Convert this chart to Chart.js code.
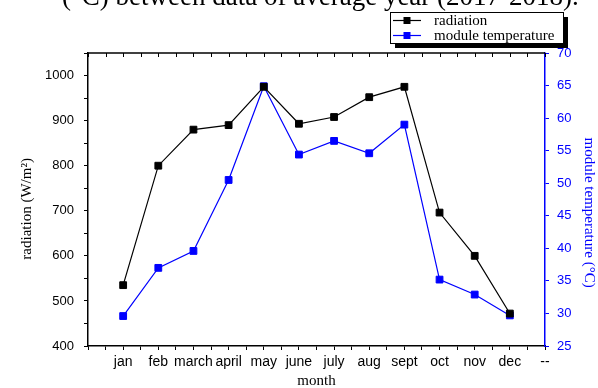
<!DOCTYPE html>
<html>
<head>
<meta charset="utf-8">
<script src="https://cdn.jsdelivr.net/npm/chart.js@4.4.0/dist/chart.umd.min.js"></script>
<style>
  body { margin: 0; background: #fff; }
  canvas { display: block; }
</style>
</head>
<body>
<canvas id="monthGraph" width="598" height="388"></canvas>
<script>
// values
const months = ['jan', 'feb', 'march', 'april', 'may', 'june', 'july', 'aug', 'sept', 'oct', 'nov', 'dec', '--']
const radiation = [535, 800, 880, 890, 975, 893, 908, 952, 975, 696, 600, 472]
const moduleTemp = [29.6, 37.0, 39.6, 50.5, 64.9, 54.4, 56.5, 54.6, 59.0, 35.2, 32.9, 29.7]
const radiationTicks = [400, 500, 600, 700, 800, 900, 1000]
const tempTicks = [25, 30, 35, 40, 45, 50, 55, 60, 65, 70]
const caption = '(\u00b0C) between data of average year (2017-2018).'

const serif = 'Liberation Serif'
const sans = 'Liberation Sans'

function toPoints(values) {
  return values.map(function (v, i) { return { x: i + 1, y: v } })
}

// the caption above the figure is cut by the top edge
const captionPlugin = {
  id: 'caption',
  afterDraw(chart) {
    const c = chart.ctx
    c.save()
    c.font = '27px "' + serif + '"'
    c.fillStyle = '#000'
    c.textBaseline = 'alphabetic'
    c.fillText(caption, 62, 5)
    c.restore()
  }
}

// top frame line with inward ticks
const frameTop = {
  id: 'frameTop',
  afterDraw(chart) {
    const c = chart.ctx
    const area = chart.chartArea
    const x = chart.scales.x
    c.save()
    c.strokeStyle = '#000'
    c.lineWidth = 1.5
    c.beginPath()
    c.moveTo(area.left, area.top)
    c.lineTo(area.right, area.top)
    c.stroke()
    c.lineWidth = 1
    x.ticks.forEach(function (t) {
      const px = Math.round(x.getPixelForValue(t.value)) + 0.5
      c.beginPath()
      c.moveTo(px, area.top)
      c.lineTo(px, area.top + 4)
      c.stroke()
    })
    c.restore()
  }
}

// boxed legend with a drop shadow
const boxLegend = {
  id: 'boxLegend',
  afterDraw(chart) {
    const c = chart.ctx
    const bx = 390, by = 12, bw = 173, bh = 31
    c.save()
    c.fillStyle = '#000'
    c.fillRect(bx + 5, by + 5, bw, bh)
    c.fillStyle = '#fff'
    c.fillRect(bx, by, bw, bh)
    c.strokeStyle = '#000'
    c.lineWidth = 1
    c.strokeRect(bx + 0.5, by + 0.5, bw, bh)
    c.font = '15px "' + serif + '"'
    c.textBaseline = 'middle'
    chart.data.datasets.forEach(function (ds, i) {
      const y = by + 8.5 + i * 15
      c.strokeStyle = ds.borderColor
      c.lineWidth = 1.2
      c.beginPath()
      c.moveTo(bx + 3, y)
      c.lineTo(bx + 31, y)
      c.stroke()
      c.fillStyle = ds.borderColor
      c.fillRect(bx + 13.5, y - 3.5, 7, 7)
      c.fillStyle = '#000'
      c.fillText(ds.label, bx + 44, y + 1)
    })
    c.restore()
  }
}

var ctx = document.getElementById('monthGraph').getContext('2d')

var monthChart = new Chart(ctx, {
  type: 'line',
  data: {
    datasets: [{
      label: 'radiation',
      data: toPoints(radiation),
      yAxisID: 'y',
      borderColor: '#000000',
      backgroundColor: '#000000',
      borderWidth: 1.2,
      pointStyle: 'rect',
      pointRadius: 4.8,
      pointBorderWidth: 1,
      tension: 0,
      fill: false
    }, {
      label: 'module temperature',
      data: toPoints(moduleTemp),
      yAxisID: 'y1',
      borderColor: '#0000ff',
      backgroundColor: '#0000ff',
      borderWidth: 1.2,
      pointStyle: 'rect',
      pointRadius: 4.8,
      pointBorderWidth: 1,
      tension: 0,
      fill: false
    }]
  },
  options: {
    responsive: false,
    animation: false,
    layout: { padding: { top: 53, left: 0, right: 0, bottom: 0 } },
    plugins: {
      legend: { display: false },
      tooltip: { enabled: false }
    },
    scales: {
      x: {
        type: 'linear',
        min: 0,
        max: 13,
        afterFit(scale) { scale.height = 42 },
        ticks: {
          stepSize: 0.5,
          autoSkip: false,
          maxRotation: 0,
          padding: 4,
          color: '#000',
          font: { family: sans, size: 14 },
          callback(v) {
            return Number.isInteger(v) && v >= 1 ? months[v - 1] : ''
          }
        },
        grid: { drawOnChartArea: false, tickLength: 4, tickColor: '#000', tickWidth: 1 },
        border: { color: '#000', width: 1.5 },
        title: {
          display: true,
          text: 'month',
          color: '#000',
          font: { family: serif, size: 15 },
          padding: { top: 0, bottom: -2 }
        }
      },
      y: {
        position: 'left',
        min: 400,
        max: 1050,
        afterFit(scale) { scale.width = 88 },
        ticks: {
          stepSize: 50,
          padding: 10,
          color: '#000',
          font: { family: sans, size: 13 },
          callback(v) {
            return radiationTicks.includes(v) ? v : ''
          }
        },
        grid: { drawOnChartArea: false, tickLength: 4, tickColor: '#000', tickWidth: 1 },
        border: { color: '#000', width: 1.5 },
        title: {
          display: true,
          text: 'radiation (W/m\u00b2)     ',
          color: '#000',
          font: { family: serif, size: 15 },
          padding: { top: 18, bottom: 0 }
        }
      },
      y1: {
        position: 'right',
        min: 25,
        max: 70,
        afterFit(scale) { scale.width = 53 },
        ticks: {
          stepSize: 2.5,
          padding: 8,
          color: '#0000ff',
          font: { family: sans, size: 13 },
          callback(v) {
            return tempTicks.includes(v) ? v : ''
          }
        },
        grid: { drawOnChartArea: false, tickLength: 4, tickColor: '#0000ff', tickWidth: 1 },
        border: { color: '#0000ff', width: 1.5 },
        title: {
          display: true,
          text: '       module temperature (\u00b0C)',
          color: '#0000ff',
          font: { family: serif, size: 15 },
          padding: { top: 0, bottom: 0 }
        }
      }
    }
  },
  plugins: [captionPlugin, frameTop, boxLegend]
})
</script>
</body>
</html>
